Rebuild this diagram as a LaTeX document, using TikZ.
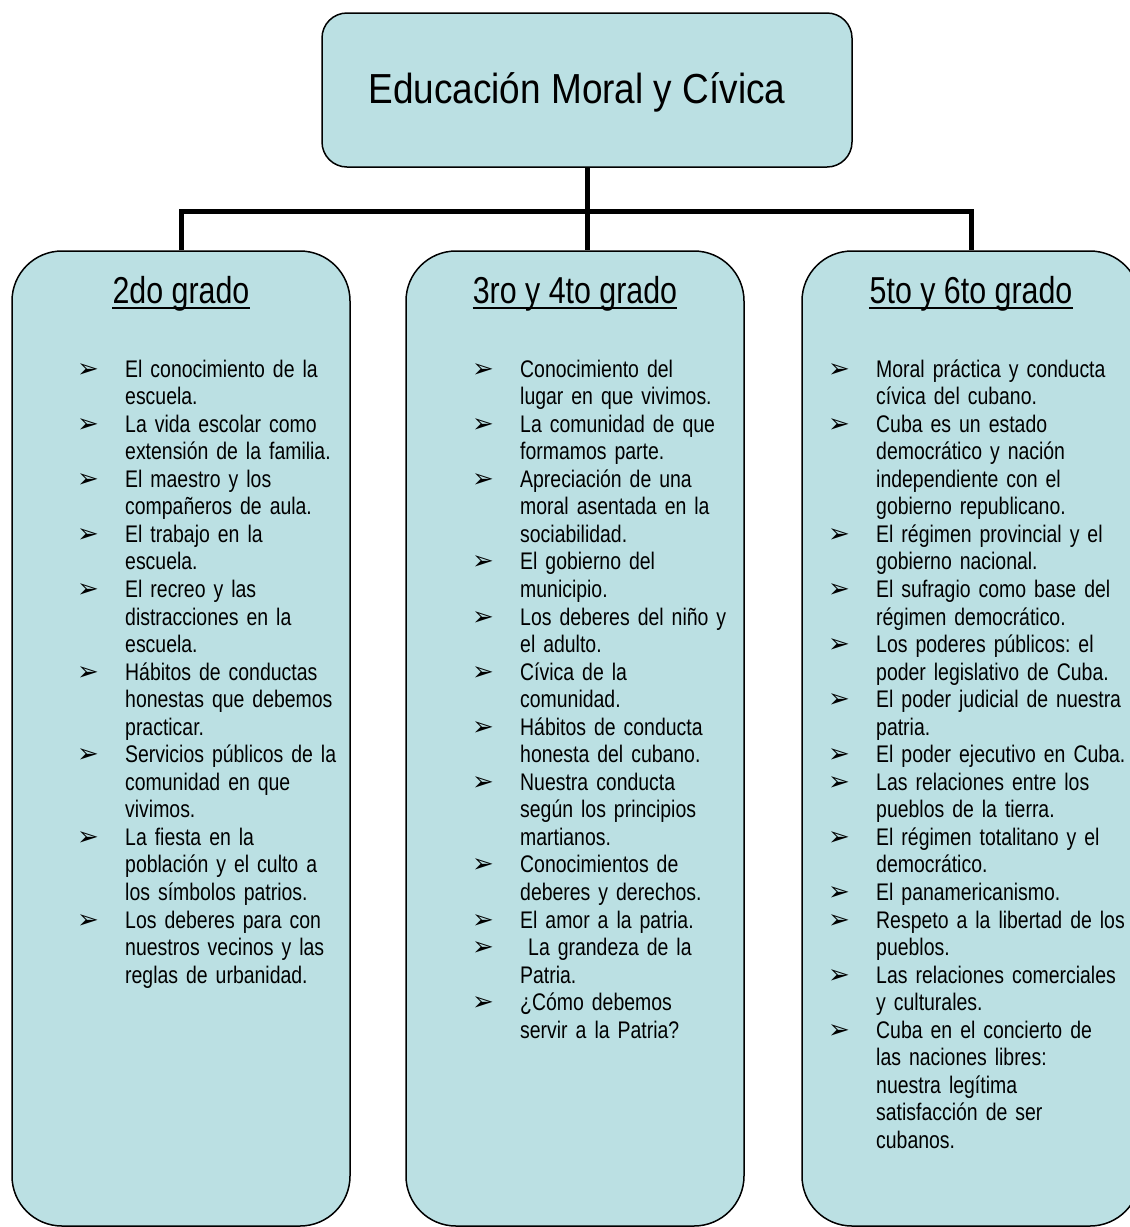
\documentclass[tikz,border=0pt]{standalone}
\usepackage{fontspec}
\setmainfont[FakeStretch=0.81]{Liberation Sans}
\newfontfamily\titulofont[FakeStretch=0.88]{Liberation Sans}
\newfontfamily\flecha{DejaVu Sans}
\definecolor{celeste}{RGB}{187,224,227}
\tikzset{
  caja/.style={draw,line width=1.5pt,fill=celeste,rounded corners=50pt,minimum width=338pt,minimum height=975pt,inner sep=0pt},
  grado/.style={inner sep=0pt,anchor=base,font=\fontsize{37.5}{40}\selectfont},
  lista/.style={inner sep=0pt,anchor=base west,text width=420pt,font=\fontsize{24}{27.55}\selectfont\frenchspacing},
  enlace/.style={line width=5pt}
}
\newcommand{\viñeta}{\rlap{\flecha\fontsize{26}{26}\selectfont\hspace{-2pt}➢}}
\newenvironment{puntos}{\begin{list}{\viñeta}{\leftmargin=46pt\labelwidth=0pt\labelsep=46pt\itemsep=0pt\parsep=0pt\topsep=0pt\partopsep=0pt}}{\end{list}}
\begin{document}
\begin{tikzpicture}[x=1pt,y=-1pt]
    \useasboundingbox (0,0) rectangle (1130,1227);

    \node[draw,line width=1.5pt,fill=celeste,rounded corners=25pt,minimum width=530pt,minimum height=154pt,inner sep=0pt](titulo)at(587,90){};
    \node[inner sep=0pt,anchor=base,font=\titulofont\fontsize{42}{46}\selectfont](tit)at(577,103){Educación Moral y Cívica};

    \node[caja](grado2)at(181,738.5){};
    \node[caja](grado34)at(575,738.5){};
    \node[caja](grado56)at(971,738.5){};

    \coordinate(barra)at(587,211);
    \draw[enlace](titulo.south)--(titulo.south|-grado34.north);
    \draw[enlace](grado2.north)|-(barra)-|(grado56.north);

    \foreach \n/\x/\t in {t2/181/2do grado,t34/575/3ro y 4to grado,t56/971/5to y 6to grado}{
        \node[grado](\n)at(\x,303){\t};
        \draw[line width=2.3pt]([yshift=-5pt]\n.base west)--([yshift=-5pt]\n.base east);
    }

    \node[lista](l2)at(79,349.5){\begin{puntos}
        \item El conocimiento de la\newline escuela.
        \item La vida escolar como\newline extensión de la familia.
        \item El maestro y los\newline compañeros de aula.
        \item El trabajo en la\newline escuela.
        \item El recreo y las\newline distracciones en la\newline escuela.
        \item Hábitos de conductas\newline honestas que debemos\newline practicar.
        \item Servicios públicos de la\newline comunidad en que\newline vivimos.
        \item La fiesta en la\newline población y el culto a\newline los símbolos patrios.
        \item Los deberes para con\newline nuestros vecinos y las\newline reglas de urbanidad.
    \end{puntos}};
    \node[lista](l34)at(474,349.5){\begin{puntos}
        \item Conocimiento del\newline lugar en que vivimos.
        \item La comunidad de que\newline formamos parte.
        \item Apreciación de una\newline moral asentada en la\newline sociabilidad.
        \item El gobierno del\newline municipio.
        \item Los deberes del niño y\newline el adulto.
        \item Cívica de la\newline comunidad.
        \item Hábitos de conducta\newline honesta del cubano.
        \item Nuestra conducta\newline según los principios\newline martianos.
        \item Conocimientos de\newline deberes y derechos.
        \item El amor a la patria.
        \item \ La grandeza de la\newline Patria.
        \item ¿Cómo debemos\newline servir a la Patria?
    \end{puntos}};
    \node[lista](l56)at(830,349.5){\begin{puntos}
        \item Moral práctica y conducta\newline cívica del cubano.
        \item Cuba es un estado\newline democrático y nación\newline independiente con el\newline gobierno republicano.
        \item El régimen provincial y el\newline gobierno nacional.
        \item El sufragio como base del\newline régimen democrático.
        \item Los poderes públicos: el\newline poder legislativo de Cuba.
        \item El poder judicial de nuestra\newline patria.
        \item El poder ejecutivo en Cuba.
        \item Las relaciones entre los\newline pueblos de la tierra.
        \item El régimen totalitano y el\newline democrático.
        \item El panamericanismo.
        \item Respeto a la libertad de los\newline pueblos.
        \item Las relaciones comerciales\newline y culturales.
        \item Cuba en el concierto de\newline las naciones libres:\newline nuestra legítima\newline satisfacción de ser\newline cubanos.
    \end{puntos}};
\end{tikzpicture}
\end{document}
